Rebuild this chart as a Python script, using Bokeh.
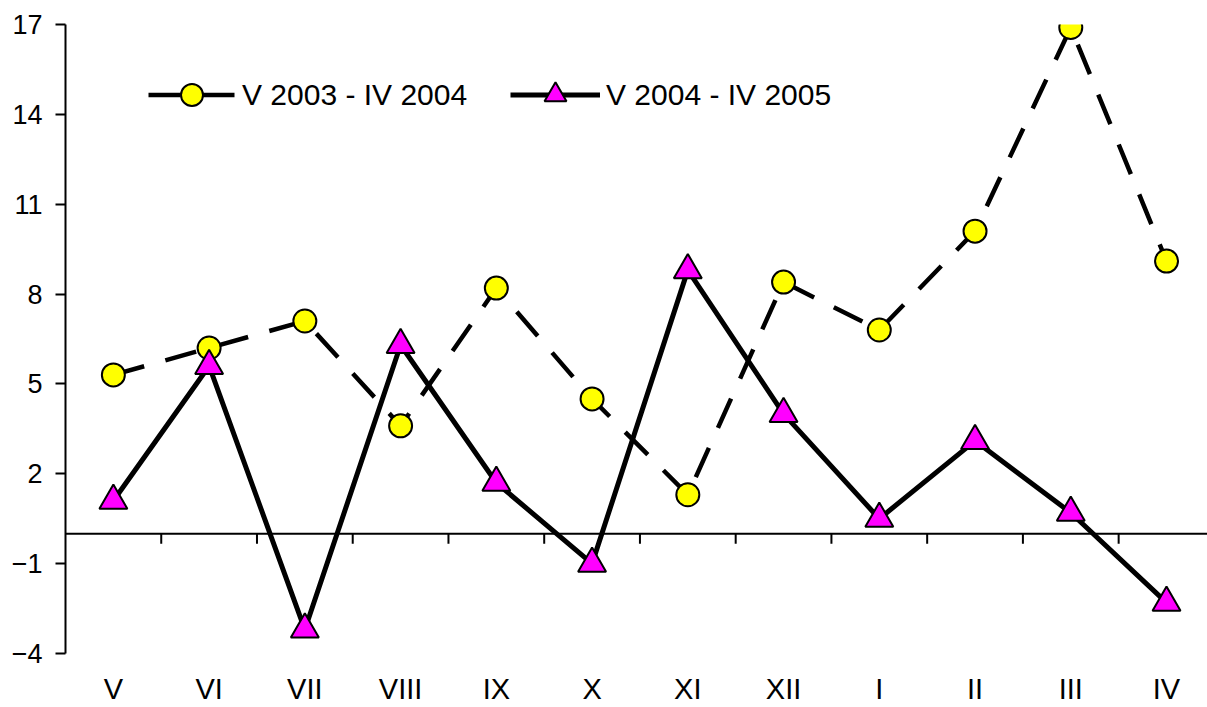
from bokeh.plotting import figure
from bokeh.models import Range1d, FixedTicker, Legend, LegendItem, ColumnDataSource, Span
from bokeh.embed import file_html
from bokeh.resources import INLINE

categories = ["V", "VI", "VII", "VIII", "IX", "X", "XI", "XII", "I", "II", "III", "IV"]
series_2003 = [5.3, 6.2, 7.1, 3.6, 8.2, 4.5, 1.3, 8.4, 6.8, 10.1, 16.9, 9.1]
series_2004 = [1.1, 5.6, -3.2, 6.3, 1.7, -1.0, 8.8, 4.0, 0.5, 3.1, 0.7, -2.3]
y_ticks = [-4, -1, 2, 5, 8, 11, 14, 17]
legend_labels = ["V 2003 - IV 2004", "V 2004 - IV 2005"]

FONT = "Liberation Sans"
W, H = 1207, 707
BORDER_L, BORDER_T, BORDER_B = 65, 24, 54

x = list(range(len(categories)))
src = ColumnDataSource(dict(x=x, a=series_2003, b=series_2004))

y_lo, y_hi = y_ticks[0], y_ticks[-1]
p = figure(width=W, height=H, output_backend="svg", toolbar_location=None,
           x_range=Range1d(-0.5, len(categories) - 0.572), y_range=Range1d(y_lo, y_hi),
           min_border_left=BORDER_L, min_border_right=0, min_border_top=BORDER_T,
           min_border_bottom=BORDER_B)
p.outline_line_color = None
p.grid.visible = False
p.background_fill_color = "white"

# y axis
p.yaxis.ticker = FixedTicker(ticks=y_ticks)
p.yaxis.axis_line_width = 2
p.yaxis.axis_line_color = "black"
p.yaxis.major_tick_line_width = 2
p.yaxis.major_tick_line_color = "black"
p.yaxis.major_tick_out = 10
p.yaxis.major_tick_in = 0
p.yaxis.minor_tick_line_color = None
p.yaxis.major_label_standoff = 13
p.yaxis.major_label_text_font = FONT
p.yaxis.major_label_text_font_size = "27px"
p.yaxis.major_label_text_color = "black"

# category labels axis (bottom)
p.xaxis.ticker = FixedTicker(ticks=x)
p.xaxis.major_label_overrides = {i: c for i, c in zip(x, categories)}
p.xaxis.axis_line_color = None
p.xaxis.major_tick_line_color = None
p.xaxis.minor_tick_line_color = None
p.xaxis.major_label_standoff = 13
p.xaxis.major_label_text_font = FONT
p.xaxis.major_label_text_font_size = "29px"
p.xaxis.major_label_text_color = "black"

# zero line with category boundary ticks
p.add_layout(Span(location=0, dimension="width", line_color="black", line_width=2,
                  level="underlay"))
frame_h = H - BORDER_T - BORDER_B
tick_len = 10 * (y_hi - y_lo) / frame_h
bounds = [i + 0.5 for i in x]
p.segment(x0=bounds, y0=[0] * len(bounds), x1=bounds, y1=[-tick_len] * len(bounds),
          line_color="black", line_width=2)

l1 = p.line("x", "a", source=src, line_color="black", line_width=4.5,
            line_dash="32 22", line_join="round")
s1 = p.scatter("x", "a", source=src, marker="circle", size=23,
               fill_color="#FFFF00", line_color="black", line_width=2)
l2 = p.line("x", "b", source=src, line_color="black", line_width=5, line_join="round")
s2 = p.scatter("x", "b", source=src, marker="triangle", size=28,
               fill_color="#FF00FF", line_color="black", line_width=2)

def make_legend(label, renderers, loc, gw, standoff):
    return Legend(items=[LegendItem(label=label, renderers=renderers)],
                  location=loc, orientation="horizontal", glyph_width=gw,
                  glyph_height=55, label_standoff=standoff, padding=0, margin=0,
                  spacing=0, border_line_color=None, background_fill_alpha=0,
                  label_text_font=FONT, label_text_font_size="30px",
                  label_text_color="black")

p.add_layout(make_legend(legend_labels[0], [l1, s1], (83, 531), 87, 7))
p.add_layout(make_legend(legend_labels[1], [l2, s2], (445, 531), 90, 6))

open("out.html", "w").write(file_html(p, INLINE))
